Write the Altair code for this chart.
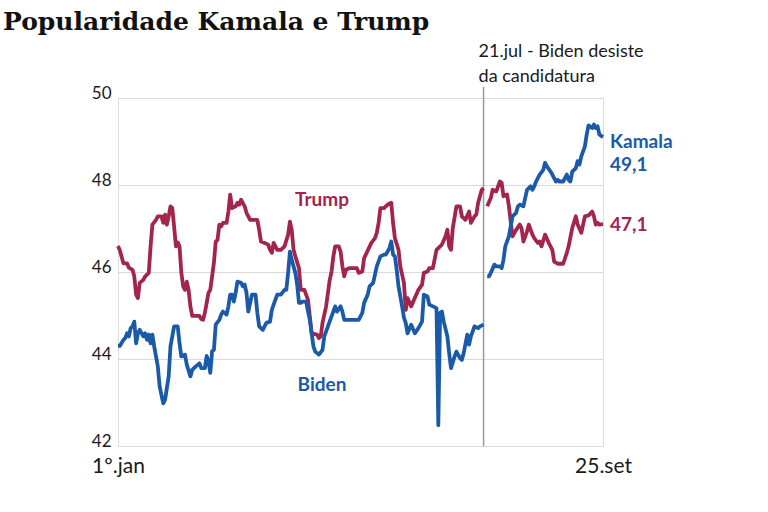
import altair as alt
import pandas as pd

# ---- data (dias desde 1º de janeiro de 2024; pesquisa média, %) ----
trump_antes_dia = [0, 1, 3, 5, 6, 8, 9, 10, 11, 12, 14, 15, 17, 18, 19, 21, 22, 24, 25, 26, 27, 28, 29, 30,
                   31, 32, 33, 34, 35, 36, 37, 38, 39, 40, 41, 45, 46, 47, 48, 50, 51, 53, 54, 55, 56, 57,
                   58, 60, 61, 62, 63, 65, 66, 67, 68, 70, 71, 73, 77, 78, 79, 81, 83, 84, 85, 86, 88, 90,
                   92, 94, 95, 96, 97, 98, 100, 101, 103, 105, 106, 107, 110, 111, 112, 113, 115, 117, 118,
                   119, 120, 122, 123, 124, 125, 126, 128, 132, 133, 135, 136, 140, 142, 143, 144, 145, 147,
                   149, 151, 152, 153, 155, 156, 158, 159, 160, 162, 164, 166, 168, 169, 171, 172, 174, 176,
                   178, 179, 181, 182, 183, 184, 185, 187, 189, 190, 192, 194, 195, 197, 198, 199, 200, 201, 202]
trump_antes_val = [46.6, 46.5, 46.2, 46.2, 46.1, 46.05, 45.9, 45.48, 45.4, 45.75, 45.82, 45.9, 45.98, 46.59,
                   47.09, 47.2, 47.28, 47.28, 47.13, 47.32, 47.09, 47.28, 47.51, 47.47, 47.05, 46.59, 46.68,
                   46.59, 45.98, 45.67, 45.59, 45.78, 45.59, 45.21, 44.99, 44.99, 44.92, 44.9, 45.06, 45.52,
                   45.59, 46.21, 46.7, 46.74, 47.09, 47.05, 47.13, 47.13, 47.39, 47.78, 47.47, 47.51, 47.59,
                   47.55, 47.66, 47.51, 47.36, 47.2, 47.2, 46.97, 46.7, 46.67, 46.63, 46.51, 46.44, 46.67,
                   46.51, 46.51, 46.59, 46.86, 47.16, 46.97, 46.51, 46.36, 46.09, 45.59, 45.59, 45.36, 44.98,
                   44.59, 44.56, 44.48, 44.52, 44.83, 45.21, 45.82, 46.01, 46.36, 46.59, 46.59, 46.47, 46.13,
                   45.9, 46.05, 46.09, 46.09, 45.98, 46.01, 46.32, 46.67, 46.78, 46.9, 47.13, 47.47, 47.47,
                   47.55, 47.59, 47.13, 46.78, 46.51, 46.13, 45.75, 45.13, 45.4, 45.21, 45.4, 45.59, 45.71,
                   45.98, 46.01, 46.09, 46.09, 46.51, 46.59, 46.63, 46.82, 46.97, 46.59, 46.51, 47.01, 47.51,
                   47.51, 47.28, 47.2, 47.39, 47.13, 47.28, 47.32, 47.59, 47.74, 47.89, 47.93]

biden_dia = [0, 1, 3, 4, 5, 6, 7, 8, 9, 10, 11, 12, 14, 15, 16, 17, 18, 19, 20, 22, 23, 25, 26, 28, 29, 31,
             33, 34, 35, 37, 38, 40, 41, 43, 45, 46, 48, 49, 50, 51, 52, 53, 54, 56, 57, 58, 60, 61, 62, 63,
             64, 65, 66, 68, 69, 70, 71, 72, 74, 76, 77, 78, 80, 82, 84, 85, 86, 88, 90, 92, 93, 94, 95, 96,
             98, 99, 100, 101, 102, 104, 105, 106, 107, 108, 109, 111, 113, 114, 116, 118, 120, 121, 123,
             124, 125, 133, 135, 136, 138, 139, 141, 142, 143, 145, 147, 148, 150, 151, 152, 153, 154, 155,
             157, 158, 159, 160, 162, 164, 166, 168, 169, 171, 172, 174, 176, 177, 178, 179, 180, 182, 183,
             184, 186, 187, 189, 190, 191, 193, 194, 195, 197, 199, 200, 202]
biden_val = [44.3, 44.3, 44.44, 44.48, 44.59, 44.52, 44.71, 44.75, 44.86, 44.36, 44.59, 44.67, 44.52, 44.59,
             44.44, 44.56, 44.36, 44.56, 44.29, 43.83, 43.37, 42.98, 43.06, 43.6, 44.29, 44.75, 44.75, 44.36,
             44.06, 44.1, 43.87, 43.6, 43.75, 43.83, 43.9, 43.79, 43.79, 44.07, 43.94, 43.68, 44.18, 44.21,
             44.79, 44.9, 45.02, 45.09, 45.02, 45.21, 45.48, 45.48, 45.32, 45.52, 45.78, 45.75, 45.67, 45.71,
             45.52, 45.09, 45.48, 45.48, 45.06, 44.75, 44.67, 44.83, 44.86, 45.13, 45.25, 45.48, 45.48, 45.59,
             45.59, 45.98, 46.47, 46.28, 45.98, 45.71, 45.29, 45.29, 45.32, 45.32, 45.09, 44.9, 44.59, 44.29,
             44.17, 44.1, 44.21, 44.52, 44.75, 44.98, 45.21, 45.09, 45.21, 45.09, 44.9, 44.9, 45.06, 45.29,
             45.48, 45.67, 45.75, 45.94, 46.13, 46.36, 46.4, 46.4, 46.55, 46.7, 46.4, 46.36, 46.05, 45.67,
             45.21, 44.95, 44.83, 44.59, 44.79, 44.59, 44.71, 44.86, 45.48, 45.44, 45.25, 45.21, 45.17, 42.48,
             45.06, 45.09, 44.86, 44.52, 44.13, 43.79, 44.06, 44.17, 44.02, 43.98, 44.13, 44.56, 44.33, 44.52,
             44.75, 44.71, 44.75, 44.79]

trump_depois_dia = [204, 206, 207, 209, 211, 212, 213, 215, 216, 218, 220, 222, 223, 224, 226, 227, 229, 230,
                    232, 233, 234, 236, 238, 240, 241, 243, 246, 248, 249, 251, 253, 254, 256, 258, 260, 262,
                    263, 264, 265, 266, 268]
trump_depois_val = [47.51, 47.7, 47.89, 47.85, 48.08, 48.05, 47.74, 47.78, 47.51, 46.82, 46.97, 47.09, 47.01,
                    46.7, 46.93, 47.09, 46.86, 46.78, 46.67, 46.7, 46.59, 46.86, 46.67, 46.51, 46.24, 46.19,
                    46.19, 46.44, 46.59, 47.01, 47.28, 47.09, 46.9, 47.28, 47.3, 47.39, 47.28, 47.09, 47.13,
                    47.09, 47.1]

kamala_dia = [204, 205, 206, 208, 209, 211, 212, 213, 214, 216, 217, 218, 220, 221, 222, 224, 225, 226, 228,
              229, 230, 231, 233, 235, 236, 237, 239, 240, 242, 243, 244, 246, 248, 249, 250, 251, 253, 254,
              255, 256, 258, 259, 260, 262, 263, 264, 265, 266, 268]
kamala_val = [45.9, 45.9, 45.98, 46.17, 46.13, 46.13, 46.09, 46.28, 46.59, 46.82, 47.05, 47.28, 47.36, 47.51,
              47.55, 47.51, 47.7, 47.89, 47.97, 47.89, 47.97, 48.08, 48.24, 48.35, 48.51, 48.43, 48.31, 48.24,
              48.08, 48.12, 48.08, 48.08, 48.24, 48.12, 48.08, 48.31, 48.39, 48.55, 48.47, 48.66, 48.89, 49.16,
              49.37, 49.31, 49.39, 49.31, 49.35, 49.16, 49.1]

# labels
rotulo_texto = ["Trump", "Biden", "Kamala", "49,1", "47,1"]
rotulo_cand = ["Trump", "Biden", "Kamala", "Kamala", "Trump"]
rotulo_dia = [112.7, 112.7, 268, 268, 268]
rotulo_val = [47.66, 43.40, 48.98, 48.45, 47.07]
rotulo_lado = ["center", "center", "left", "left", "left"]

dia_desistencia = 202
nota = "21.jul - Biden desiste\nda candidatura"

CORES = {"Trump": "#a3254b", "Biden": "#1b5aa8", "Kamala": "#1b5aa8"}
FONTE = "Lato"

rows = []
for seg, cand, dias, vals in [
    ("trump_antes", "Trump", trump_antes_dia, trump_antes_val),
    ("biden", "Biden", biden_dia, biden_val),
    ("trump_depois", "Trump", trump_depois_dia, trump_depois_val),
    ("kamala", "Kamala", kamala_dia, kamala_val),
]:
    for d, v in zip(dias, vals):
        rows.append({"dia": d, "valor": v, "segmento": seg, "candidato": cand})
df = pd.DataFrame(rows)

rot = pd.DataFrame({"dia": rotulo_dia, "valor": rotulo_val, "texto": rotulo_texto,
                    "candidato": rotulo_cand, "lado": rotulo_lado})

cor = alt.Color("candidato:N", scale=alt.Scale(domain=list(CORES.keys()), range=list(CORES.values())),
                legend=None)

xenc = alt.X("dia:Q", scale=alt.Scale(domain=[0, 268], nice=False, zero=False),
             axis=alt.Axis(values=[0, 268],
                           labelExpr="datum.value == 0 ? '1º.jan' : '25.set'",
                           grid=False, domain=False, ticks=False, labelFlush=False,
                           labelFontSize=21, labelPadding=9, labelColor="#1a1a1a",
                           labelFont=FONTE, title=None))
yenc = alt.Y("valor:Q", scale=alt.Scale(domain=[42, 50], nice=False, zero=False),
             axis=alt.Axis(values=[42, 44, 46, 48, 50], grid=True, gridColor="#d9d9d9",
                           gridWidth=1, domain=False, ticks=False, labelFontSize=17,
                           labelPadding=7, labelBaseline="alphabetic", labelColor="#1a1a1a",
                           labelFont=FONTE, title=None))

linhas = alt.Chart(df).mark_line(strokeWidth=3.8, strokeJoin="round").encode(
    x=xenc, y=yenc, color=cor, detail="segmento:N", order="dia:Q")

regra = alt.Chart(pd.DataFrame({"dia": [dia_desistencia]})).mark_rule(
    color="#9a9a9a", strokeWidth=1.5).encode(x="dia:Q", y=alt.value(-11), y2=alt.value(348))

anot = alt.Chart(pd.DataFrame({"dia": [dia_desistencia], "t": [nota]})).mark_text(
    align="left", baseline="top", dx=-5, fontSize=18, font=FONTE, color="#1a1a1a",
    lineBreak="\n", lineHeight=25).encode(x="dia:Q", y=alt.value(-55), text="t:N")

rot_centro = alt.Chart(rot[rot.lado == "center"]).mark_text(
    align="center", baseline="middle", fontSize=19, fontWeight="bold", font=FONTE).encode(
    x="dia:Q", y="valor:Q", text="texto:N", color=cor)
rot_esq = alt.Chart(rot[rot.lado == "left"]).mark_text(
    align="left", baseline="middle", dx=7, fontSize=19, fontWeight="bold", font=FONTE).encode(
    x="dia:Q", y="valor:Q", text="texto:N", color=cor)

chart = alt.layer(regra, linhas, anot, rot_centro, rot_esq).properties(
    width=485, height=348,
    title=alt.TitleParams("Popularidade Kamala e Trump", anchor="start", frame="group",
                          font="DejaVu Serif", fontSize=25, fontWeight="bold", color="#111111",
                          dx=-115, offset=8),
    autosize=alt.AutoSizeParams(type="none"),
    padding={"left": 118, "top": 98, "right": 165, "bottom": 66},
).configure_view(stroke=None).configure(background="white")

chart.save("out.html", embed_options={"renderer": "svg", "actions": False})
